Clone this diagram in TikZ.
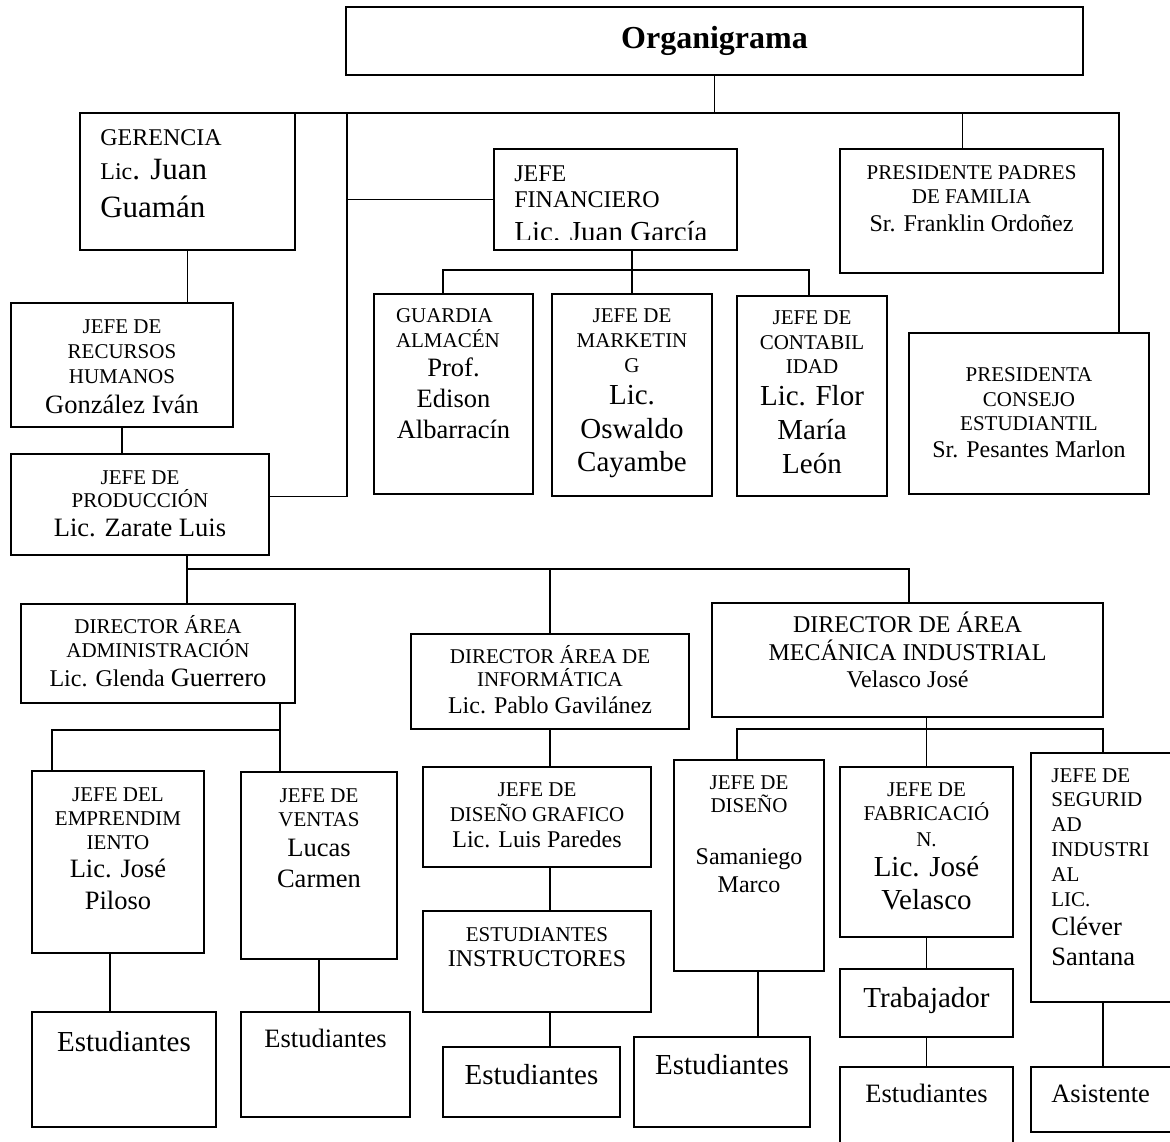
\documentclass[tikz,border=0pt]{standalone}
\usepackage{fontspec}
\setmainfont{Liberation Serif}
\usetikzlibrary{positioning}

\newcommand\szA{\fontsize{21}{25}\selectfont}
\newcommand\szB{\fontsize{24}{28}\selectfont}
\newcommand\szC{\fontsize{29}{33}\selectfont}
\newcommand\szD{\fontsize{26.5}{30}\selectfont}
\newcommand\szE{\fontsize{31}{35}\selectfont}

\tikzset{
  orgbox/.style={draw, rectangle, line width=1.7pt, inner sep=0pt},
  txt/.style={inner sep=0pt, align=center, font=\szA},
  conn/.style={line width=1.3pt},
}

\begin{document}
\begin{tikzpicture}[x=1pt,y=-1pt]
\useasboundingbox (0,0) rectangle (1170,1142);
\clip (0,0) rectangle (1170,1142);

% top
\node[orgbox, line width=2.2pt, minimum width=737pt, minimum height=68pt,
  font=\fontsize{32}{36}\selectfont\bfseries] (org) at (714.5,41) {Organigrama};

% second level
\node[orgbox, minimum width=215pt, minimum height=137pt] (ger) at (187.5,181.5) {};
\node[txt, align=left, below right=17pt and 21pt of ger.north west] (ger-t)
  {{\szB GERENCIA}\\[9pt]{\szB Lic}{\szE. Juan}\\[13pt]{\szE Guamán}};

\node[orgbox, minimum width=243pt, minimum height=101pt] (fin) at (615.5,199.5) {};
\begin{scope}
\clip (fin.north west) rectangle ([yshift=11pt]fin.south east);
\node[txt, align=left, font=\szB, below right=17pt and 21pt of fin.north west] (fin-t)
  {JEFE\\[-2pt]FINANCIERO\\[6.5pt]{\szC Lic. Juan García}};
\end{scope}

\node[orgbox, minimum width=263pt, minimum height=124pt] (pad) at (971.5,211) {};
\node[txt, below=17pt of pad.north] (pad-t)
  {PRESIDENTE PADRES\\[-1pt]DE FAMILIA\\[3pt]{\szB Sr. Franklin Ordoñez}};

\node[orgbox, minimum width=222pt, minimum height=124pt] (rh) at (122,365) {};
\node[txt, below=17pt of rh.north] (rh-t)
  {JEFE DE\\RECURSOS\\HUMANOS\\[5pt]{\szD González Iván}};

% finanzas
\node[orgbox, minimum width=159pt, minimum height=200pt] (gua) at (453.5,394) {};
\node[txt, below=15pt of gua.north] (gua-t)
  {\makebox[115pt][l]{GUARDIA}\\\makebox[115pt][l]{ALMACÉN}\\[4pt]{\szD Prof.}\\[6pt]{\szD Edison}\\[6pt]{\szD Albarracín}};

\node[orgbox, minimum width=160pt, minimum height=202pt] (mkt) at (632,395) {};
\node[txt, below=15pt of mkt.north] (mkt-t)
  {JEFE DE\\MARKETIN\\G\\[7pt]{\szC Lic.}\\[9pt]{\szC Oswaldo}\\[8pt]{\szC Cayambe}};

\node[orgbox, minimum width=150pt, minimum height=200pt] (con) at (812,396) {};
\node[txt, below=15pt of con.north] (con-t)
  {JEFE DE\\CONTABIL\\[-1pt]IDAD\\[7pt]{\szC Lic. Flor}\\[9pt]{\szC María}\\[9pt]{\szC León}};

\node[orgbox, minimum width=240pt, minimum height=161pt] (pta) at (1029,413.5) {};
\node[txt, below=35pt of pta.north] (pta-t)
  {PRESIDENTA\\CONSEJO\\[-1pt]ESTUDIANTIL\\[2pt]{\szB Sr. Pesantes Marlon}};

\node[orgbox, minimum width=258pt, minimum height=101pt] (pro) at (140,504.5) {};
\node[txt, below=17pt of pro.north] (pro-t)
  {JEFE DE\\[-2pt]PRODUCCIÓN\\[4pt]{\szD Lic. Zarate Luis}};

% directores
\node[orgbox, minimum width=274pt, minimum height=99pt] (adm) at (158,653.5) {};
\node[txt, below=12pt of adm.north] (adm-t)
  {DIRECTOR ÁREA\\[-1pt]ADMINISTRACIÓN\\[4pt]{\szB Lic. Glenda }{\szD Guerrero}};

\node[orgbox, minimum width=278pt, minimum height=95pt] (inf) at (550,681.5) {};
\node[txt, below=12pt of inf.north] (inf-t)
  {DIRECTOR ÁREA DE\\[-2pt]INFORMÁTICA\\[2pt]{\szB Lic. Pablo Gavilánez}};

\node[orgbox, minimum width=391pt, minimum height=114pt] (mec) at (907.5,660) {};
\node[txt, font=\szB, below=10pt of mec.north] (mec-t)
  {DIRECTOR DE ÁREA\\MECÁNICA INDUSTRIAL\\[-1pt]Velasco José};

% jefes
\node[orgbox, minimum width=172pt, minimum height=182pt] (emp) at (118,862) {};
\node[txt, below=17pt of emp.north] (emp-t)
  {JEFE DEL\\[-1pt]EMPRENDIM\\[-1pt]IENTO\\[3pt]{\szD Lic. José}\\[7pt]{\szD Piloso}};

\node[orgbox, minimum width=156pt, minimum height=187pt] (ven) at (319,865.5) {};
\node[txt, below=17pt of ven.north] (ven-t)
  {JEFE DE\\[-1pt]VENTAS\\[5pt]{\szD Lucas}\\[6pt]{\szD Carmen}};

\node[orgbox, minimum width=228pt, minimum height=100pt] (dg) at (537,817) {};
\node[txt, below=16pt of dg.north] (dg-t)
  {JEFE DE\\DISEÑO GRAFICO\\[1pt]{\szB Lic. Luis Paredes}};

\node[orgbox, minimum width=228pt, minimum height=101pt] (ins) at (537,961.5) {};
\node[txt, below=17pt of ins.north] (ins-t)
  {ESTUDIANTES\\{\szB INSTRUCTORES}};

\node[orgbox, minimum width=150pt, minimum height=211pt] (dis) at (749,865.5) {};
\node[txt, below=16pt of dis.north] (dis-t)
  {JEFE DE\\[-2pt]DISEÑO\\[27pt]{\szB Samaniego}\\[3pt]{\szB Marco}};

\node[orgbox, minimum width=173pt, minimum height=170pt] (fab) at (926.5,852) {};
\node[txt, below=16pt of fab.north] (fab-t)
  {JEFE DE\\[-1pt]FABRICACIÓ\\[1pt]N.\\[5pt]{\szC Lic. José}\\[8pt]{\szC Velasco}};

\node[orgbox, minimum width=144pt, minimum height=249pt] (seg) at (1103,877.5) {};
\node[txt, align=left, below right=16pt and 21pt of seg.north west] (seg-t)
  {JEFE DE\\[-1pt]SEGURID\\AD\\INDUSTRI\\AL\\LIC.\\[4pt]{\szD Cléver}\\[5pt]{\szD Santana}};

\node[orgbox, minimum width=173pt, minimum height=68pt] (tra) at (926.5,1003) {};
\node[txt, font=\szC, below=19pt of tra.north] (tra-t) {Trabajador};

% base
\node[orgbox, minimum width=184pt, minimum height=115pt] (est1) at (124,1069.5) {};
\node[txt, font=\szC, below=20pt of est1.north] (est1-t) {Estudiantes};
\node[orgbox, minimum width=169pt, minimum height=105pt] (est2) at (325.5,1064.5) {};
\node[txt, font=\szD, below=18pt of est2.north] (est2-t) {Estudiantes};
\node[orgbox, minimum width=177pt, minimum height=70pt] (est3) at (531.5,1082) {};
\node[txt, font=\szC, below=18pt of est3.north] (est3-t) {Estudiantes};
\node[orgbox, minimum width=176pt, minimum height=90pt] (est4) at (722,1082) {};
\node[txt, font=\szC, below=18pt of est4.north] (est4-t) {Estudiantes};
\node[orgbox, minimum width=173pt, minimum height=83pt] (est5) at (926.5,1108.5) {};
\node[txt, font=\szD, below=18pt of est5.north] (est5-t) {Estudiantes};
\node[orgbox, minimum width=144pt, minimum height=65pt] (asi) at (1103,1099.5) {};
\node[txt, font=\szD, below right=19pt and 21pt of asi.north west] (asi-t) {Asistente};

% lines
\coordinate (busL) at (282,113);
\coordinate (busR) at (1119,113);
\coordinate (spine) at (347,113);
\draw[conn] (org.south) -- (org.south |- busL);
\draw[conn] (busL) -- (busR) -- (busR |- pta.north);
\draw[conn] ([xshift=-9pt]pad.north) -- ([xshift=-9pt]pad.north |- busL);
\draw[conn] (spine) |- ([yshift=8pt]pro.east);
\draw[conn] (fin.west) -- (fin.west -| spine);
\draw[conn] (ger.south) -- (ger.south |- rh.north);
\draw[conn] (rh.south) -- (rh.south |- pro.north);

\coordinate (fl) at (443,270);
\coordinate (fr) at (809,270);
\draw[conn] (mkt.north |- fin.south) -- (mkt.north);
\draw[conn] (fl |- gua.north) -- (fl) -- (fr) -- (fr |- con.north);

\coordinate (pl) at (187,569);
\coordinate (pr) at (909,569);
\draw[conn] (pl |- pro.south) -- (pl |- adm.north);
\draw[conn] (pl) -- (pr) -- (pr |- mec.north);
\draw[conn] (inf.north |- pl) -- (inf.north);

\coordinate (al) at (52,730);
\coordinate (ar) at (280,730);
\draw[conn] (ar |- adm.south) -- (ar |- ven.north);
\draw[conn] (ar) -- (al) -- (al |- emp.north);

\draw[conn] (inf.south) -- (inf.south |- dg.north);
\draw[conn] (inf.south |- dg.south) -- (inf.south |- ins.north);
\draw[conn] (inf.south |- ins.south) -- (inf.south |- est3.north);

\coordinate (ml) at (737,729);
\coordinate (mr) at (1103,729);
\draw[conn] (fab.north |- mec.south) -- (fab.north);
\draw[conn] (ml |- dis.north) -- (ml) -- (mr) -- (mr |- seg.north);

\draw[conn] ([xshift=-8pt]emp.south) -- ([xshift=-8pt]emp.south |- est1.north);
\draw[conn] (ven.south) -- (ven.south |- est2.north);
\draw[conn] ([xshift=9pt]dis.south) -- ([xshift=9pt]dis.south |- est4.north);
\draw[conn] (fab.south) -- (tra.north);
\draw[conn] (tra.south) -- (est5.north);
\draw[conn] (seg.south) -- (asi.north);
\end{tikzpicture}
\end{document}
